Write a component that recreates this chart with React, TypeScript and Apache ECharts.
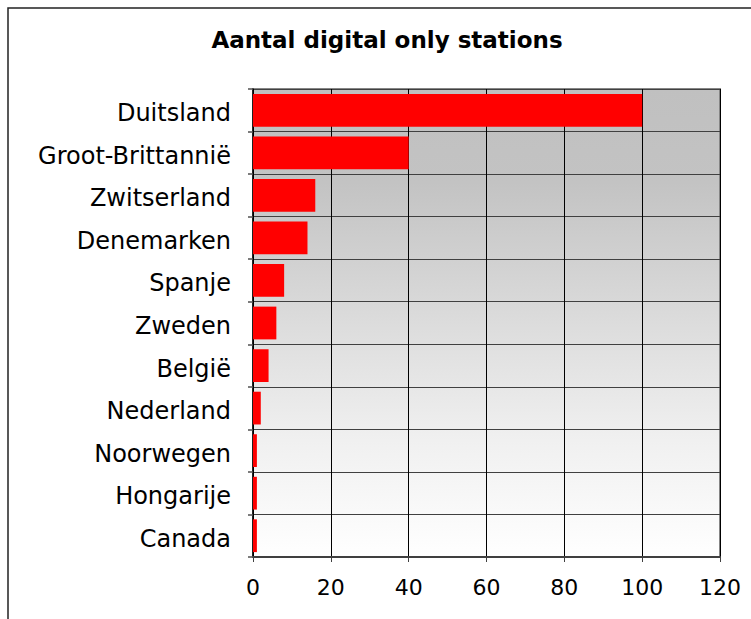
import React, { useEffect, useRef } from "react";
import * as echarts from "echarts";

const categories = [
  "Duitsland",
  "Groot-Brittannië",
  "Zwitserland",
  "Denemarken",
  "Spanje",
  "Zweden",
  "België",
  "Nederland",
  "Noorwegen",
  "Hongarije",
  "Canada",
];
const stations = [100, 40, 16, 14, 8, 6, 4, 2, 1, 1, 1];
const titleText = "Aantal digital only stations";
const FONT = "'DejaVu Sans', Verdana, sans-serif";

export default function App() {
  const ref = useRef<HTMLDivElement>(null);

  useEffect(() => {
    if (!ref.current) return;
    const chart = echarts.init(ref.current, null, { renderer: "svg" });
    chart.setOption({
      animation: false,
      backgroundColor: "#ffffff",
      graphic: [
        {
          type: "rect",
          shape: { x: 8, y: 8, width: 820, height: 720 },
          style: { fill: "none", stroke: "#222222", lineWidth: 1.5 },
          z: 100,
        },
        {
          type: "text",
          x: 387,
          y: 40,
          style: {
            text: titleText,
            font: `bold 23px ${FONT}`,
            fill: "#000000",
            textAlign: "center",
            textVerticalAlign: "middle",
          },
        },
      ],
      grid: {
        left: 253,
        right: 31,
        top: 89,
        bottom: 62,
        show: true,
        backgroundColor: new echarts.graphic.LinearGradient(0, 0, 0, 1, [
          { offset: 0, color: "#c0c0c0" },
          { offset: 0.2, color: "#c3c3c3" },
          { offset: 0.5, color: "#dcdcdc" },
          { offset: 0.75, color: "#f0f0f0" },
          { offset: 1, color: "#ffffff" },
        ]),
        borderColor: "#858585",
        borderWidth: 2,
      },
      xAxis: {
        type: "value",
        min: 0,
        max: 120,
        interval: 20,
        axisLine: { show: true, lineStyle: { color: "#404040", width: 2 } },
        axisTick: { show: true, length: 5, lineStyle: { color: "#404040" } },
        axisLabel: {
          margin: 19,
          color: "#000000",
          fontFamily: FONT,
          fontSize: 22,
        },
        splitLine: { show: true, lineStyle: { color: "#000000", width: 1 } },
      },
      yAxis: {
        type: "category",
        data: categories,
        inverse: true,
        axisLine: { show: true, lineStyle: { color: "#000000", width: 1.5 } },
        axisTick: { show: true, length: 5, lineStyle: { color: "#505050", width: 1.5 } },
        axisLabel: {
          margin: 22,
          color: "#000000",
          fontFamily: FONT,
          fontSize: 24,
          formatter: (v: string) => `{c|${v}}`,
          rich: {
            c: {
              fontFamily: FONT,
              fontSize: 24,
              color: "#000000",
              padding: [6, 0, 0, 0],
            },
          },
        },
        splitLine: { show: true, lineStyle: { color: "#404040", width: 1 } },
      },
      series: [
        {
          type: "bar",
          data: stations,
          barCategoryGap: "23%",
          itemStyle: { color: "#ff0000" },
          z: 3,
        },
      ],
    });
    return () => chart.dispose();
  }, []);

  return (
    <div
      ref={ref}
      style={{ position: "fixed", left: 0, top: 0, width: 751, height: 619 }}
    />
  );
}
